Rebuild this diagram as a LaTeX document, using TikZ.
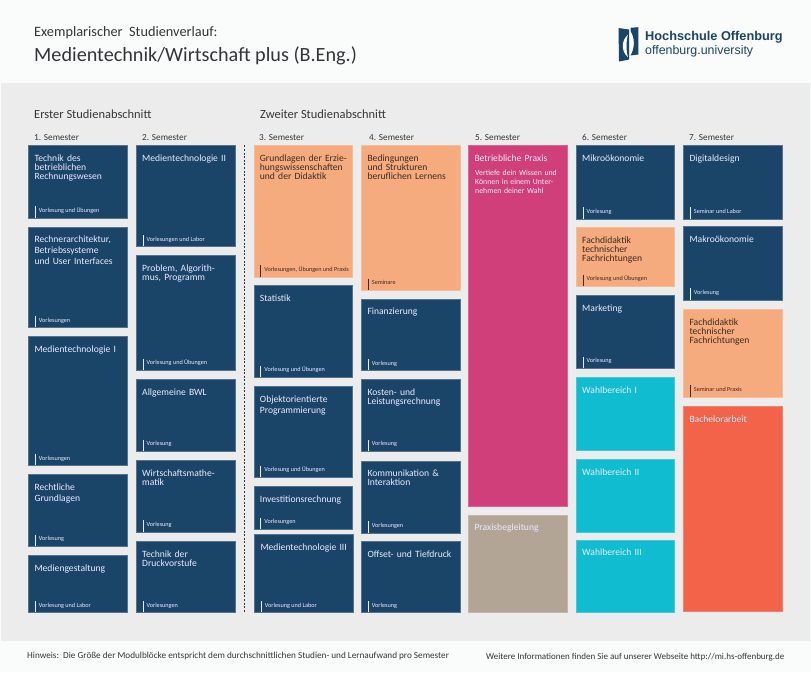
\documentclass[tikz,border=0pt]{standalone}
\usepackage{fontspec}
\usepackage{xcolor}
\setmainfont{Carlito}
\newfontfamily\logofont{Liberation Sans}
\usetikzlibrary{calc}
\definecolor{blau}{HTML}{1A4468}
\definecolor{orange}{HTML}{F6AB7E}
\definecolor{pink}{HTML}{D13F7A}
\definecolor{taupe}{HTML}{B3A596}
\definecolor{tuerkis}{HTML}{10BCCF}
\definecolor{rot}{HTML}{F26349}
\definecolor{seite}{HTML}{FAFBFB}
\definecolor{feld}{HTML}{ECECEC}
\definecolor{schrift}{HTML}{333638}
\begin{document}
\begin{tikzpicture}[
		x=1pt, y=-1pt,
		box/.style={
			anchor=north west,
			inner sep=0pt,
			outer sep=0pt,
			line width=0.4pt
			},
		blaubox/.style={box, fill=blau, draw=blau!75!white},
		orangebox/.style={box, fill=orange, draw=orange!80!white},
		pinkbox/.style={box, fill=pink, draw=pink!80!white},
		taupebox/.style={box, fill=taupe, draw=taupe!80!white},
		tuerkisbox/.style={box, fill=tuerkis, draw=tuerkis!80!white},
		rotbox/.style={box, fill=rot, draw=rot!80!white},
		titel/.style={
			anchor=base west,
			inner sep=0pt,
			text width=92pt,
			align=left,
			xshift=6pt,
			yshift=-16pt,
			font=\fontsize{9.6}{9}\selectfont
			},
		hell/.style={text=blue!8!white},
		dunkel/.style={text=black!75!orange},
		form/.style={
			anchor=south west,
			inner ysep=0pt,
			inner xsep=3.4pt,
			xshift=7pt,
			text height=6pt,
			text depth=5pt,
			font=\fontsize{6.2}{6}\selectfont
			},
		strichhell/.style={
			append after command={(\tikzlastnode.north west) edge[draw=blue!8!white, line width=0.7pt] (\tikzlastnode.south west)}
			},
		strichdunkel/.style={
			append after command={(\tikzlastnode.north west) edge[draw=black!75!orange, line width=0.7pt] (\tikzlastnode.south west)}
			},
		ueber/.style={anchor=base west, inner sep=0pt, text=schrift}
		]

		% Hintergrund
		\useasboundingbox (0,0) rectangle (811,672);
		\fill[seite] (0,0) rectangle (811,672);
		\fill[feld] (1,83) rectangle (810,640.7);

		% Kopf
		\node[ueber, font=\fontsize{14.3}{15}\selectfont] (kopfa) at (34,36.7) {Exemplarischer\ \ Studienverlauf:};
		\node[ueber, font=\fontsize{20.2}{20}\selectfont] (kopfb) at (34,61) {Medientechnik/Wirtschaft plus (B.Eng.)};

		% Logo
		\fill[blau] (618.5,28) -- (629,29.5) -- (629,59.5) -- (619,61.5) -- cycle;
		\fill[seite] (628,35) .. controls (621,40) and (621,52) .. (628,57) .. controls (626,52) and (626,40) .. (628,35) -- cycle;
		\fill[blau] (630.5,27.8) -- (638.3,27.2) -- (638.3,54.5) -- (630.5,55.5) .. controls (635,48) and (635,38) .. (630.5,31) -- cycle;
		\node[ueber, text=blau, font=\logofont\bfseries\fontsize{12.75}{13}\selectfont] (logoa) at (645,40.5) {Hochschule Offenburg};
		\node[ueber, text=blau, font=\logofont\fontsize{12.4}{13}\selectfont] (logob) at (645,54) {offenburg.university};

		% Abschnitte
		\node[ueber, font=\fontsize{12.45}{12}\selectfont] (absa) at (34,118) {Erster Studienabschnitt};
		\node[ueber, font=\fontsize{12.45}{12}\selectfont] (absb) at (260,118) {Zweiter Studienabschnitt};

		\node[ueber, font=\fontsize{9.2}{9}\selectfont] (sem1) at (34,140) {1. Semester};
		\node[ueber, font=\fontsize{9.2}{9}\selectfont] (sem2) at (142,140) {2. Semester};
		\node[ueber, font=\fontsize{9.2}{9}\selectfont] (sem3) at (259,140) {3. Semester};
		\node[ueber, font=\fontsize{9.2}{9}\selectfont] (sem4) at (369,140) {4. Semester};
		\node[ueber, font=\fontsize{9.2}{9}\selectfont] (sem5) at (475,140) {5. Semester};
		\node[ueber, font=\fontsize{9.2}{9}\selectfont] (sem6) at (582,140) {6. Semester};
		\node[ueber, font=\fontsize{9.2}{9}\selectfont] (sem7) at (689,140) {7. Semester};

		% 1. Semester
		\node[blaubox, minimum width=98.8pt, minimum height=72.4pt] (a1) at (28.3,145.3) {};
		\node[titel, hell] at (a1.north west) {Technik des\\betrieblichen\\Rechnungswesen};
		\node[form, hell, strichhell] (a1f) at (a1.south west) {Vorlesung und Übungen};

		\node[blaubox, minimum width=98.8pt, minimum height=100.7pt] (a2) at (28.3,226.7) {};
		\node[titel, hell] at (a2.north west) {Rechnerarchitektur,\\[2pt]Betriebssysteme\\[2pt]und User Interfaces};
		\node[form, hell, strichhell] (a2f) at (a2.south west) {Vorlesungen};

		\node[blaubox, minimum width=98.8pt, minimum height=129.4pt] (a3) at (28.3,336) {};
		\node[titel, hell] at (a3.north west) {Medientechnologie I};
		\node[form, hell, strichhell] (a3f) at (a3.south west) {Vorlesungen};

		\node[blaubox, minimum width=98.8pt, minimum height=71.8pt] (a4) at (28.3,474.3) {};
		\node[titel, hell] at (a4.north west) {Rechtliche\\[2pt]Grundlagen};
		\node[form, hell, strichhell] (a4f) at (a4.south west) {Vorlesung};

		\node[blaubox, minimum width=98.8pt, minimum height=57.1pt] (a5) at (28.3,555.3) {};
		\node[titel, hell] at (a5.north west) {Mediengestaltung};
		\node[form, hell, strichhell] (a5f) at (a5.south west) {Vorlesung und Labor};

		% 2. Semester
		\node[blaubox, minimum width=98.7pt, minimum height=101.1pt] (b1) at (136,145.3) {};
		\node[titel, hell] at (b1.north west) {Medientechnologie II};
		\node[form, hell, strichhell] (b1f) at (b1.south west) {Vorlesungen und Labor};

		\node[blaubox, minimum width=98.7pt, minimum height=114.8pt] (b2) at (136,255.3) {};
		\node[titel, hell] at (b2.north west) {Problem, Algorith-\\mus, Programm};
		\node[form, hell, strichhell] (b2f) at (b2.south west) {Vorlesung und Übungen};

		\node[blaubox, minimum width=98.7pt, minimum height=71.8pt] (b3) at (136,379.3) {};
		\node[titel, hell] at (b3.north west) {Allgemeine BWL};
		\node[form, hell, strichhell] (b3f) at (b3.south west) {Vorlesung};

		\node[blaubox, minimum width=98.7pt, minimum height=71.7pt] (b4) at (136,460) {};
		\node[titel, hell] at (b4.north west) {Wirtschaftsmathe-\\matik};
		\node[form, hell, strichhell] (b4f) at (b4.south west) {Vorlesung};

		\node[blaubox, minimum width=98.7pt, minimum height=71.4pt] (b5) at (136,541) {};
		\node[titel, hell] at (b5.north west) {Technik der\\Druckvorstufe};
		\node[form, hell, strichhell] (b5f) at (b5.south west) {Vorlesungen};

		% Trennlinie
		\coordinate (trenna) at (244.3,145.3);
		\coordinate (trennb) at (244.3,613);
		\draw[schrift, line width=0.6pt, dash pattern=on 2pt off 1.6pt] (trenna) -- (trennb);

		% 3. Semester
		\node[orangebox, minimum width=98.7pt, minimum height=131.4pt] (c1) at (253.7,145.3) {};
		\node[titel, dunkel] at (c1.north west) {Grundlagen der Erzie-\\hungswissenschaften\\und der Didaktik};
		\node[form, dunkel, strichdunkel] (c1f) at (c1.south west) {Vorlesungen, Übungen und Praxis};

		\node[blaubox, minimum width=98.7pt, minimum height=91.8pt] (c2) at (253.7,285.3) {};
		\node[titel, hell] at (c2.north west) {Statistik};
		\node[form, hell, strichhell] (c2f) at (c2.south west) {Vorlesung und Übungen};

		\node[blaubox, minimum width=98.7pt, minimum height=91.1pt] (c3) at (253.7,386) {};
		\node[titel, hell] at (c3.north west) {Objektorientierte\\[2pt]Programmierung};
		\node[form, hell, strichhell] (c3f) at (c3.south west) {Vorlesung und Übungen};

		\node[blaubox, minimum width=98.7pt, minimum height=42.8pt] (c4) at (253.7,486.3) {};
		\node[titel, hell] at (c4.north west) {Investitionsrechnung};
		\node[form, hell, strichhell] (c4f) at (c4.south west) {Vorlesungen};

		\node[blaubox, minimum width=98.7pt, minimum height=78.1pt] (c5) at (254.3,534.3) {};
		\node[titel, hell] at (c5.north west) {Medientechnologie III};
		\node[form, hell, strichhell] (c5f) at (c5.south west) {Vorlesung und Labor};

		% 4. Semester
		\node[orangebox, minimum width=98.7pt, minimum height=144.8pt] (d1) at (361.3,145.3) {};
		\node[titel, dunkel] at (d1.north west) {Bedingungen\\und Strukturen\\beruflichen Lernens};
		\node[form, dunkel, strichdunkel] (d1f) at (d1.south west) {Seminare};

		\node[blaubox, minimum width=98.7pt, minimum height=71.7pt] (d2) at (361.3,298.7) {};
		\node[titel, hell] at (d2.north west) {Finanzierung};
		\node[form, hell, strichhell] (d2f) at (d2.south west) {Vorlesung};

		\node[blaubox, minimum width=98.7pt, minimum height=71.8pt] (d3) at (361.3,379.3) {};
		\node[titel, hell] at (d3.north west) {Kosten- und\\Leistungsrechnung};
		\node[form, hell, strichhell] (d3f) at (d3.south west) {Vorlesung};

		\node[blaubox, minimum width=98.7pt, minimum height=72pt] (d4) at (361.3,460.7) {};
		\node[titel, hell] at (d4.north west) {Kommunikation \&\\Interaktion};
		\node[form, hell, strichhell] (d4f) at (d4.south west) {Vorlesungen};

		\node[blaubox, minimum width=98.7pt, minimum height=71.4pt] (d5) at (361.3,541) {};
		\node[titel, hell] at (d5.north west) {Offset- und Tiefdruck};
		\node[form, hell, strichhell] (d5f) at (d5.south west) {Vorlesung};

		% 5. Semester
		\node[pinkbox, minimum width=99.1pt, minimum height=360.8pt] (e1) at (468.3,145.3) {};
		\node[titel, hell] at (e1.north west) {Betriebliche Praxis};
		\node[anchor=base west, inner sep=0pt, text width=90pt, align=left, hell, font=\fontsize{7.8}{9}\selectfont] (e1t) at (475,175.3) {Vertiefe dein Wissen und\\Können in einem Unter-\\nehmen deiner Wahl};

		\node[taupebox, minimum width=99.1pt, minimum height=97.7pt] (e2) at (468.3,514.7) {};
		\node[titel, hell] at (e2.north west) {Praxisbegleitung};

		% 6. Semester
		\node[blaubox, minimum width=98.4pt, minimum height=73.4pt] (f1) at (576,145.3) {};
		\node[titel, hell] at (f1.north west) {Mikroökonomie};
		\node[form, hell, strichhell] (f1f) at (f1.south west) {Vorlesung};

		\node[orangebox, minimum width=98.4pt, minimum height=58.8pt] (f2) at (576,227.3) {};
		\node[titel, dunkel] at (f2.north west) {Fachdidaktik\\technischer\\Fachrichtungen};
		\node[form, dunkel, strichdunkel] (f2f) at (f2.south west) {Vorlesung und Übungen};

		\node[blaubox, minimum width=98.4pt, minimum height=73.1pt] (f3) at (576,295) {};
		\node[titel, hell] at (f3.north west) {Marketing};
		\node[form, hell, strichhell] (f3f) at (f3.south west) {Vorlesung};

		\node[tuerkisbox, minimum width=98.4pt, minimum height=72.7pt] (f4) at (576,377) {};
		\node[titel, hell] at (f4.north west) {Wahlbereich I};

		\node[tuerkisbox, minimum width=98.4pt, minimum height=72.8pt] (f5) at (576,459.3) {};
		\node[titel, hell] at (f5.north west) {Wahlbereich II};

		\node[tuerkisbox, minimum width=98.4pt, minimum height=72.7pt] (f6) at (576,539.7) {};
		\node[titel, hell] at (f6.north west) {Wahlbereich III};

		% 7. Semester
		\node[blaubox, minimum width=98.8pt, minimum height=73.4pt] (g1) at (683.3,145.3) {};
		\node[titel, hell] at (g1.north west) {Digitaldesign};
		\node[form, hell, strichhell] (g1f) at (g1.south west) {Seminar und Labor};

		\node[blaubox, minimum width=98.8pt, minimum height=73.4pt] (g2) at (683.3,226.3) {};
		\node[titel, hell] at (g2.north west) {Makroökonomie};
		\node[form, hell, strichhell] (g2f) at (g2.south west) {Vorlesung};

		\node[orangebox, minimum width=98.8pt, minimum height=87.7pt] (g3) at (683.3,309) {};
		\node[titel, dunkel] at (g3.north west) {Fachdidaktik\\technischer\\Fachrichtungen};
		\node[form, dunkel, strichdunkel] (g3f) at (g3.south west) {Seminar und Praxis};

		\node[rotbox, minimum width=98.8pt, minimum height=205.4pt] (g4) at (683.3,406) {};
		\node[titel, hell] at (g4.north west) {Bachelorarbeit};

		% Fuss
		\node[ueber, font=\fontsize{9.2}{9}\selectfont] (fussa) at (27,658) {Hinweis:\ \ Die Größe der Modulblöcke entspricht dem durchschnittlichen Studien- und Lernaufwand pro Semester};
		\node[ueber, font=\fontsize{9}{9}\selectfont] (fussb) at (486,659) {Weitere Informationen finden Sie auf unserer Webseite http://mi.hs-offenburg.de};
	\end{tikzpicture}
\end{document}
